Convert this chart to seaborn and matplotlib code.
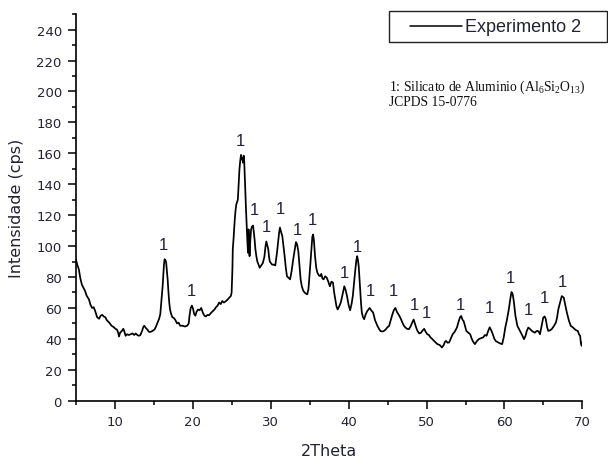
import matplotlib
matplotlib.use("Agg")
import matplotlib.pyplot as plt
from matplotlib.patches import Rectangle
from matplotlib.lines import Line2D
from matplotlib.ticker import MultipleLocator
import seaborn as sns
import pandas as pd

# XRD pattern, Experimento 2 (2-theta in degrees, intensity in cps)
two_theta = [
    5.0, 5.2, 5.4, 5.6, 5.8, 6.0, 6.2, 6.4, 6.7, 6.9, 7.1, 7.3, 7.5, 7.75, 8.0, 8.2, 8.4, 8.6, 8.8, 9.0,
    9.3, 9.6, 9.9, 10.1, 10.3, 10.45, 10.55, 10.7, 10.9, 11.1, 11.2, 11.4, 11.6, 11.8, 12.05, 12.3, 12.5,
    12.7, 12.9, 13.1, 13.3, 13.5, 13.7, 13.8, 14.0, 14.2, 14.4, 14.6, 14.8, 15.1, 15.3, 15.5, 15.7, 15.85,
    15.95, 16.06, 16.15, 16.24, 16.32, 16.4, 16.5, 16.6, 16.7, 16.8, 16.9, 17.0, 17.1, 17.25, 17.4, 17.6,
    17.8, 18.0, 18.2, 18.4, 18.7, 19.0, 19.3, 19.5, 19.6, 19.75, 19.9, 20.05, 20.2, 20.35, 20.5, 20.7,
    20.9, 21.1, 21.3, 21.5, 21.7, 21.9, 22.1, 22.4, 22.6, 22.8, 23.0, 23.2, 23.4, 23.6, 23.8, 24.0, 24.3,
    24.5, 24.7, 24.9, 25.0, 25.1, 25.15, 25.25, 25.4, 25.5, 25.6, 25.7, 25.8, 25.9, 26.0, 26.1, 26.2,
    26.3, 26.4, 26.45, 26.55, 26.6, 26.67, 26.74, 26.82, 26.9, 27.0, 27.1, 27.17, 27.24, 27.3, 27.4, 27.5,
    27.6, 27.75, 27.85, 27.95, 28.05, 28.17, 28.3, 28.45, 28.6, 28.8, 29.0, 29.2, 29.35, 29.45, 29.55,
    29.7, 29.8, 29.9, 30.05, 30.2, 30.4, 30.6, 30.8, 31.0, 31.1, 31.2, 31.35, 31.5, 31.65, 31.8, 31.95,
    32.1, 32.3, 32.5, 32.7, 32.9, 33.1, 33.25, 33.4, 33.55, 33.7, 33.85, 34.0, 34.2, 34.45, 34.7, 34.85,
    35.05, 35.2, 35.35, 35.45, 35.55, 35.7, 35.85, 36.0, 36.2, 36.35, 36.5, 36.65, 36.8, 37.0, 37.2, 37.4,
    37.6, 37.8, 38.0, 38.15, 38.3, 38.45, 38.6, 38.8, 39.0, 39.2, 39.45, 39.6, 39.8, 40.0, 40.2, 40.4,
    40.55, 40.66, 40.85, 41.0, 41.1, 41.2, 41.3, 41.45, 41.6, 41.7, 41.85, 42.0, 42.2, 42.4, 42.55, 42.7,
    42.9, 43.15, 43.4, 43.7, 43.9, 44.1, 44.3, 44.5, 44.75, 44.95, 45.2, 45.4, 45.6, 45.8, 46.0, 46.2,
    46.5, 46.7, 46.9, 47.1, 47.3, 47.5, 47.75, 48.0, 48.2, 48.35, 48.5, 48.6, 48.8, 49.05, 49.3, 49.5,
    49.7, 49.9, 50.1, 50.3, 50.5, 50.75, 51.0, 51.2, 51.4, 51.7, 51.98, 52.2, 52.35, 52.5, 52.7, 52.9,
    53.1, 53.35, 53.6, 53.9, 54.1, 54.3, 54.45, 54.6, 54.75, 54.9, 55.1, 55.35, 55.6, 55.8, 56.0, 56.2,
    56.45, 56.7, 57.0, 57.25, 57.5, 57.7, 57.9, 58.1, 58.3, 58.5, 58.7, 58.9, 59.2, 59.45, 59.7, 59.9,
    60.1, 60.3, 60.55, 60.75, 60.9, 61.05, 61.2, 61.4, 61.55, 61.65, 61.9, 62.1, 62.3, 62.5, 62.7, 62.85,
    63.05, 63.25, 63.5, 63.7, 63.9, 64.1, 64.25, 64.4, 64.55, 64.75, 64.97, 65.15, 65.3, 65.45, 65.6,
    65.85, 66.05, 66.3, 66.6, 66.75, 66.9, 67.1, 67.35, 67.6, 67.8, 68.0, 68.25, 68.5, 68.75, 69.0, 69.2,
    69.4, 69.55, 69.7, 69.8, 69.9, 70.0,
]
intensity = [
    92, 88, 85, 79, 75, 73, 71, 68, 65.5, 62, 60, 60.5, 58, 54, 53, 55, 55.5, 54.5, 54, 52,
    50.5, 48.5, 47.5, 46.5, 46, 44, 41.5, 44, 45, 46.5, 45.5, 42, 43, 42.5, 43, 43.5, 42.5,
    43.5, 42.5, 42, 42.5, 45, 48, 48.5, 47, 46, 44.5, 44.5, 45, 46, 48, 50.5, 53, 56,
    62, 68, 74, 81, 88, 91.5, 91, 89.5, 84, 78, 70, 63.5, 59, 56, 54, 53.5,
    52, 50, 50.5, 48.5, 48.5, 48, 48.5, 50, 55, 60, 61.5, 59.5, 56, 55, 57.5, 59,
    58.5, 60, 57, 55, 54.5, 55.5, 55.3, 57, 58, 59, 60.5, 61.5, 63.5, 62.5, 64.5, 63.5, 64.5,
    65.5, 66.7, 67.7, 70, 85, 98, 105, 117, 123, 127, 128.5, 130, 140, 149.5, 155, 159,
    156, 157, 154, 158.5, 157, 147, 136.6, 127, 117, 105, 95.7, 110.8, 102, 93.5, 104, 110.8,
    112.5, 113.3, 109, 104, 98, 93.5, 90, 88, 86, 87.5, 89, 93, 100, 103, 101,
    98, 93, 90, 89, 88, 88, 87.5, 95, 104, 109, 112, 109, 106.5, 100, 93.5, 86,
    80.5, 79.5, 78.5, 84, 91.4, 98, 102.6, 101, 96.8, 88, 78.5, 74, 71, 69.5, 68.8, 72,
    85, 96, 106, 107.5, 104, 93.5, 86, 82.8, 81, 80.6, 82, 79, 78.5, 80.5, 79.6, 77,
    74, 77, 76.4, 70, 65.6, 61, 59, 61, 63.5, 68, 74, 72, 67.7, 62, 58.5, 63,
    68, 74, 84, 91, 93.5, 91, 87, 75, 63, 57, 54, 52.7, 56, 58, 59, 60,
    58.5, 57, 52, 48.4, 46.5, 45, 44.8, 45, 46, 47.3, 48.4, 52, 55.5, 58.5, 60, 57.5,
    55, 53, 50.6, 48.5, 47.3, 46.5, 46.3, 48.5, 51, 52.5, 50, 48.4, 45.5, 43.5, 44, 45.5,
    46.5, 44.5, 43, 42.5, 41, 39.8, 38.5, 37.5, 36.6, 36, 34.4, 36, 38, 38.7, 37.5, 37.7,
    40, 43, 44.5, 47.3, 51, 54, 54.8, 52.5, 51.6, 49, 45.2, 44, 43, 40, 38, 36.6,
    38.5, 39.8, 40.5, 40.9, 42.5, 42, 45, 47.5, 45.5, 43, 40, 38.5, 37.7, 37, 36.6, 41,
    47.3, 52, 59, 66, 70.3, 69, 64, 55, 51, 48.4, 46, 44, 42, 39.8, 42, 45,
    47.3, 46.5, 45.2, 44.5, 44, 45, 45.2, 44.5, 43, 48, 53.8, 54.5, 52.7, 48, 45.2,
    45.5, 46.3, 48, 50.6, 54, 59, 63, 67.7, 66.7, 62, 57, 52, 48.4, 47.5, 46.3, 45.5,
    45.2, 43, 42, 37, 35.5, 38,
]

# Phase marks "1" (Silicato de Aluminio) placed above each reflection
peak_label_x = [16.3, 19.9, 26.1, 27.9, 29.45, 31.2, 33.4, 35.4, 39.45, 41.1,
                42.8, 45.7, 48.5, 50.0, 54.4, 58.1, 60.8, 63.1, 65.1, 67.45]
peak_label_y = [101, 71, 168, 123.6, 113, 124, 111, 117, 83, 100,
                71, 71.4, 62.4, 57, 62, 60.2, 80, 59, 66.7, 77.4]
peak_label_text = ["1"] * len(peak_label_x)

x_ticks = [10, 20, 30, 40, 50, 60, 70]
y_ticks = [0, 20, 40, 60, 80, 100, 120, 140, 160, 180, 200, 220, 240]

df = pd.DataFrame({"2Theta": two_theta, "Intensidade": intensity})

sns.set_style("ticks")
plt.rcParams["font.family"] = ["DejaVu Sans"]

fig = plt.figure(figsize=(6.08, 4.60), dpi=100)
ax = fig.add_axes([0.1245, 0.1267, 0.8335, 0.8403])

sns.lineplot(data=df, x="2Theta", y="Intensidade", ax=ax, color="black",
             linewidth=1.25, sort=False, estimator=None)

ax.set_xlim(5, 70)
ax.set_ylim(0, 250)
ax.set_xticks(x_ticks)
ax.set_yticks(y_ticks)
ax.xaxis.set_minor_locator(MultipleLocator(5))
ax.yaxis.set_minor_locator(MultipleLocator(10))

for side in ("top", "right"):
    ax.spines[side].set_visible(False)
for side in ("left", "bottom"):
    ax.spines[side].set_linewidth(1.2)
    ax.spines[side].set_color("black")

tick_color = "#222233"
ax.tick_params(axis="both", which="major", direction="out", length=6, width=1.1,
               labelsize=9.5, pad=4, colors="black", labelcolor=tick_color)
ax.tick_params(axis="both", which="minor", direction="out", length=3.2, width=1.1,
               colors="black")

ax.set_xlabel("2Theta", fontsize=11.5, labelpad=11, color=tick_color)
ax.set_ylabel("Intensidade (cps)", fontsize=11.5, labelpad=9, color=tick_color)

label_color = "#26223d"
for px, py, t in zip(peak_label_x, peak_label_y, peak_label_text):
    ax.text(px, py, t, ha="center", va="center", fontsize=12,
            family=["Liberation Sans", "DejaVu Sans"], color=label_color)

# Phase reference note
serif = ["Liberation Serif", "DejaVu Serif"]
fig.text(389 / 608, 1 - 87 / 460,
         r"1: Silicato de Aluminio ($\mathregular{Al_6Si_2O_{13}}$)",
         family=serif, fontsize=9.8, ha="left", va="center", color="#111111")
fig.text(389 / 608, 1 - 103 / 460, "JCPDS 15-0776",
         family=serif, fontsize=9.8, ha="left", va="center", color="#111111")

# Legend box drawn in figure pixels
W, H = 608, 460
fig.patches.append(Rectangle((389 / W, 1 - 43 / H), (606.5 - 389) / W, 31 / H,
                             transform=fig.transFigure, fill=False,
                             edgecolor="#222222", linewidth=1.0))
fig.lines.append(Line2D([410 / W, 462 / W], [1 - 27 / H, 1 - 27 / H],
                        transform=fig.transFigure, color="black", linewidth=1.1))
fig.text(465 / W, 1 - 27.5 / H, "Experimento 2", fontsize=13, ha="left",
         va="center", family=["Liberation Sans", "DejaVu Sans"], color=tick_color)

fig.savefig("out.png", dpi=100)
